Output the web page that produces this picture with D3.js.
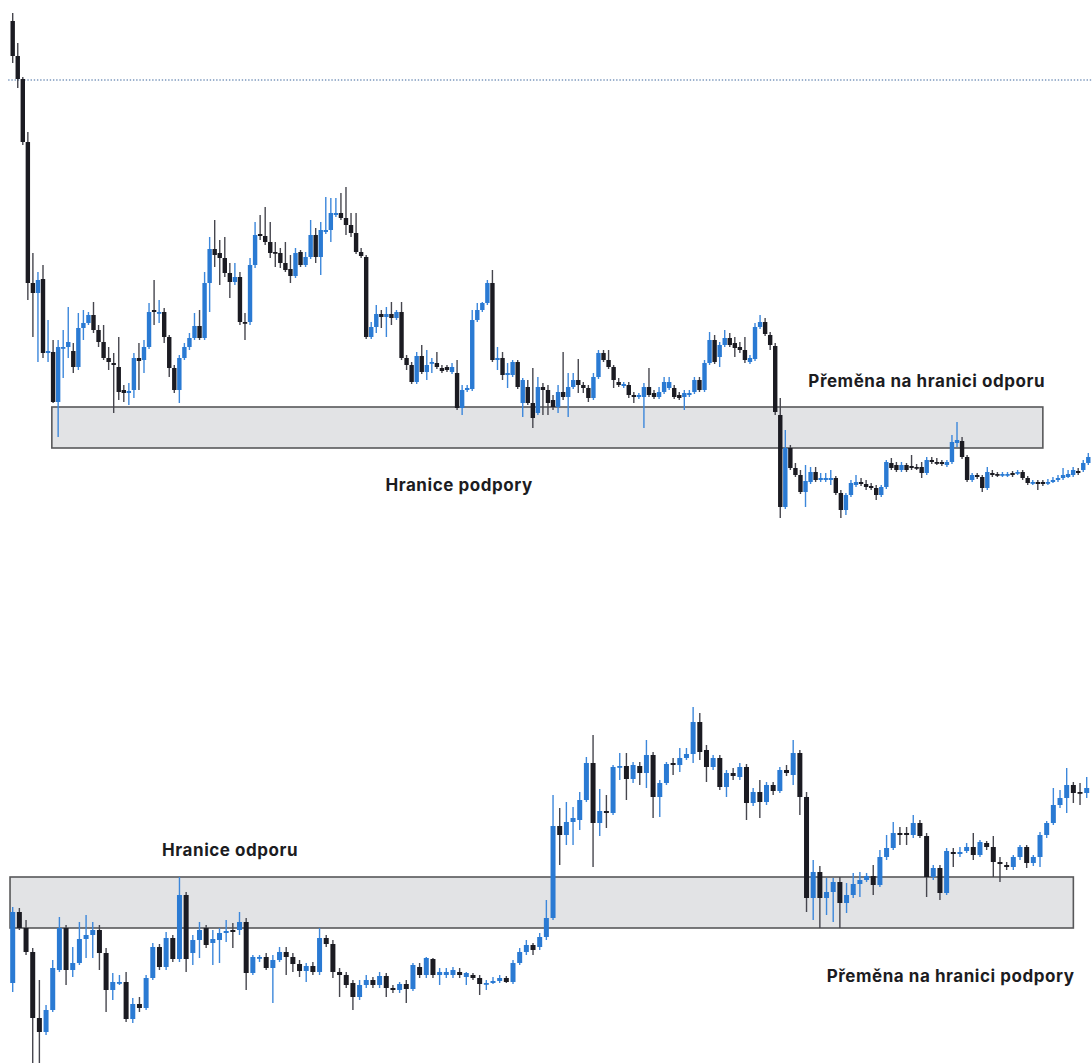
<!DOCTYPE html>
<html>
<head>
<meta charset="utf-8">
<script src="https://cdn.jsdelivr.net/npm/d3@7"></script>
<style>
  html, body { margin: 0; padding: 0; background: #ffffff; }
  svg { display: block; }
  .label { font-family: Inter, "Noto Sans", sans-serif; font-weight: 700; fill: #1c1c1f; letter-spacing: 0.55px; }
</style>
</head>
<body>
<div id="chart"></div>
<script>
// Upper chart: one row per candle, [open, high, low, close]
const topCandles = [
  [579,587,537,544],[544,557,512,521],[521,523,455,458],[458,468,300,317],[317,347,263,307],
  [307,328,238,320],[321,335,242,247],[247,280,238,249],[248,260,197,198],[198,260,163,253],
  [252,270,222,253],[253,293,242,258],[249,257,227,233],[233,287,230,272],[272,290,260,277],
  [277,288,275,285],[285,298,267,270],[270,275,253,258],[258,275,240,242],[242,253,230,238],
  [237,247,187,235],[233,263,200,208],[210,215,198,207],[207,217,195,209],[210,247,202,242],
  [242,257,210,239],[240,260,227,253],[253,297,251,288],[290,320,275,288],[287,300,277,288],
  [288,292,257,263],[263,265,223,232],[232,235,207,210],[210,245,197,242],[242,257,240,253],
  [253,267,250,262],[262,287,260,274],[274,290,260,262],[262,328,260,317],[317,363,288,351],
  [351,380,333,345],[347,360,315,342],[342,363,323,327],[327,337,302,318],[318,337,315,323],
  [323,328,275,278],[278,287,260,277],[278,342,275,335],[335,378,332,365],[366,385,360,364],
  [364,393,355,358],[358,378,342,347],[348,358,333,347],[347,352,332,337],[337,358,328,330],
  [331,345,317,324],[324,352,322,347],[348,350,333,335],[335,348,333,343],[343,380,341,365],
  [365,372,337,343],[343,378,325,370],[368,403,366,370],[370,402,358,387],[385,402,383,387],
  [387,407,380,382],[382,413,365,375],[375,387,363,367],[367,387,346,348],[348,352,342,344],
  [343,345,261,263],[263,278,261,273],[273,295,267,286],[286,290,272,283],[283,293,263,286],
  [286,298,275,282],[282,290,280,288],[288,298,240,242],[242,245,230,235],[235,238,216,218],
  [218,248,216,244],[244,255,226,228],[228,250,220,235],[237,242,227,238],[237,248,231,233],
  [232,235,227,229],[233,235,228,230],[228,237,226,233],[227,240,190,192],[192,215,185,210],
  [210,215,208,212],[211,290,209,280],[280,297,278,290],[290,298,288,297],[297,320,295,317],
  [317,330,238,240],[240,253,230,242],[242,248,220,225],[225,237,212,227],[225,240,223,238],
  [238,240,211,213],[197,222,183,220],[213,220,195,197],[197,232,172,182],[187,223,185,213],
  [213,217,185,210],[210,215,185,197],[200,205,190,193],[193,215,187,208],[208,248,200,203],
  [203,227,183,213],[213,227,211,220],[220,241,207,215],[215,218,207,212],[212,215,198,202],
  [202,227,200,223],[223,250,221,247],[247,250,238,240],[240,250,231,233],[233,235,212,220],
  [218,222,213,215],[214,218,212,216],[215,218,202,205],[205,208,197,203],[203,207,201,205],
  [203,217,172,213],[213,232,203,205],[207,210,201,203],[203,213,201,208],[208,223,206,218],
  [212,223,210,218],[212,215,201,203],[205,208,200,202],[203,210,190,207],[205,210,203,207],
  [208,223,206,220],[220,223,208,210],[210,240,208,237],[237,268,235,260],[260,265,236,238],
  [243,258,233,255],[255,270,253,262],[262,267,253,255],[257,263,243,252],[253,258,247,250],
  [250,263,237,240],[238,245,236,242],[241,277,239,273],[273,285,271,278],[278,282,264,266],
  [265,268,250,255],[254,257,185,188],[185,202,82,93],[93,170,91,152],[152,155,130,132],
  [132,137,123,125],[125,130,106,108],[108,135,93,119],[118,133,116,128],[128,133,118,120],
  [120,127,118,122],[120,127,118,122],[120,130,115,122],[122,124,105,107],[107,110,82,90],
  [90,107,85,105],[105,120,103,117],[115,125,113,118],[118,122,114,116],[116,120,110,113],
  [114,117,110,112],[112,115,100,105],[105,115,103,113],[113,140,111,138],[137,142,130,132],
  [135,138,128,130],[130,138,128,135],[135,137,128,130],[134,145,130,132],[133,136,130,132],
  [133,138,122,127],[127,143,125,140],[140,143,136,138],[138,142,135,137],[138,140,134,136],
  [135,140,133,138],[138,165,136,158],[157,178,153,160],[159,163,141,143],[143,145,118,120],
  [120,127,118,125],[125,127,121,123],[123,125,108,112],[112,133,110,128],[127,130,123,125],
  [126,128,123,125],[125,128,123,126],[125,128,123,126],[127,129,123,125],[127,130,125,128],
  [128,130,120,122],[122,124,115,117],[117,120,115,118],[118,120,110,116],[118,120,114,116],
  [117,121,115,118],[118,123,117,120],[120,125,118,122],[122,132,120,125],[123,130,122,126],
  [125,133,123,130],[129,132,125,127],[130,140,128,137],[137,147,135,143]
];

// Lower chart: [open, high, low, close]
const bottomCandles = [
  [117,193,108,188],[188,192,170,172],[172,180,145,148],[148,152,30,82],[82,120,30,68],
  [68,95,65,90],[90,140,88,132],[130,183,128,172],[172,175,115,130],[130,153,123,137],
  [137,178,135,161],[161,185,142,165],[165,178,142,170],[170,175,130,147],[147,152,88,110],
  [110,127,100,118],[117,125,115,118],[118,128,78,81],[81,102,77,96],[96,103,88,92],
  [92,125,90,122],[122,157,120,153],[153,156,130,133],[133,168,130,162],[162,165,138,141],
  [141,223,138,205],[205,208,128,141],[147,165,135,160],[160,178,142,170],[172,175,152,155],
  [157,170,135,161],[160,172,137,167],[167,180,158,169],[170,177,152,168],[170,188,165,178],
  [178,182,110,127],[127,145,125,143],[142,145,138,143],[143,147,130,132],[132,145,97,140],
  [140,153,138,148],[148,153,125,143],[143,147,128,136],[136,140,123,129],[129,137,118,134],
  [134,138,125,128],[128,172,125,162],[162,165,153,156],[156,160,122,128],[128,132,103,125],
  [125,128,112,115],[117,120,90,103],[103,120,100,115],[115,125,112,120],[120,123,112,115],
  [115,128,112,124],[124,127,103,112],[112,115,107,110],[110,118,107,116],[116,120,97,111],
  [111,137,109,135],[133,137,122,125],[125,143,122,142],[141,142,122,125],[125,132,115,128],
  [125,132,122,128],[125,133,122,130],[128,132,122,125],[123,128,115,127],[125,127,120,122],
  [122,125,105,116],[116,120,110,117],[117,123,116,119],[119,125,117,122],[122,124,117,118],
  [118,140,116,137],[137,152,135,148],[148,160,145,155],[155,157,145,150],[153,167,150,163],
  [163,200,160,182],[182,305,180,274],[274,292,235,265],[265,298,255,278],[278,293,255,282],
  [280,308,270,300],[300,343,298,337],[337,365,233,277],[277,311,264,289],[289,305,272,287],
  [287,335,285,333],[333,347,320,334],[334,347,300,321],[321,338,317,335],[334,338,315,327],
  [327,360,312,345],[345,348,282,303],[303,320,283,317],[317,338,315,336],[337,342,325,335],
  [335,352,328,342],[342,352,340,346],[346,393,337,378],[378,387,340,348],[350,355,318,333],
  [333,345,330,342],[342,345,310,313],[313,330,303,327],[327,332,320,324],[323,337,320,333],
  [333,336,280,297],[297,312,294,308],[308,320,282,298],[298,318,295,315],[315,318,305,309],
  [309,333,307,330],[330,335,324,327],[325,360,315,347],[347,350,285,303],[303,308,188,202],
  [202,240,180,228],[228,234,172,202],[202,222,185,208],[208,222,178,218],[218,223,172,197],
  [197,217,187,205],[205,227,202,216],[216,228,203,220],[220,227,218,224],[224,235,205,215],
  [215,250,213,243],[243,265,240,252],[252,278,250,267],[267,273,255,265],[267,273,255,265],
  [265,285,262,277],[277,280,262,264],[264,267,203,223],[223,235,220,232],[232,235,200,207],
  [207,252,205,249],[248,252,233,246],[246,253,243,248],[249,257,247,253],[253,267,240,245],
  [245,260,243,258],[257,259,250,253],[253,264,223,238],[238,243,218,236],[235,238,230,233],
  [233,245,230,243],[243,255,240,253],[253,255,232,237],[237,245,234,243],[243,268,233,265],
  [265,279,262,277],[277,312,275,295],[295,310,292,302],[302,332,287,315],[315,318,297,307],
  [308,317,295,307],[307,323,302,312]
];

// Zones: [first candle, last candle, low price, high price]
const topZone = [7.75, 204, 152, 193];
const bottomZone = [-0.4, 159, 172, 223];

// Dotted level on the upper chart: price
const topLevel = 520;

// Labels: [text, candle index (centre), price (baseline)]
const topLabels = [
  ["Hranice podpory", 88.4, 109],
  ["Přeměna na hranici odporu", 181.0, 213]
];
const bottomLabels = [
  ["Hranice odporu", 32.6, 244],
  ["Přeměna na hranici podpory", 140.6, 118]
];

const W = 1092, H = 1063;
const blue = "#2a7ad3", dark = "#1b1b22";

const svg = d3.select("#chart")
    .append("svg")
    .attr("width", W)
    .attr("height", H);

function drawPanel(candles, zone, labels, xScale, yScale, bodyW, level) {
    const g = svg.append("g");

    // Zone box goes under the candles
    g.append("rect")
        .attr("x", xScale(zone[0]))
        .attr("y", yScale(zone[3]))
        .attr("width", xScale(zone[1]) - xScale(zone[0]))
        .attr("height", yScale(zone[2]) - yScale(zone[3]))
        .attr("fill", "#e2e3e5")
        .attr("stroke", "#58585a")
        .attr("stroke-width", 1.6);

    if (level !== null) {
        g.append("line")
            .attr("x1", xScale(-0.9))
            .attr("x2", W)
            .attr("y1", yScale(level))
            .attr("y2", yScale(level))
            .attr("stroke", "#7c98bd")
            .attr("stroke-width", 1.4)
            .attr("stroke-dasharray", "1.4,1.8");
    }

    const isUp = d => d[3] >= d[0];

    const c = g.selectAll(".candle")
        .data(candles)
        .join("g")
        .attr("class", "candle");

    // wicks
    c.append("line")
        .attr("x1", (d, i) => xScale(i))
        .attr("x2", (d, i) => xScale(i))
        .attr("y1", d => yScale(d[1]))
        .attr("y2", d => yScale(d[2]))
        .attr("stroke", d => isUp(d) ? "#3c87db" : "#46464e")
        .attr("stroke-width", 1.4);

    // bodies
    c.append("rect")
        .attr("x", (d, i) => xScale(i) - bodyW / 2)
        .attr("y", d => yScale(Math.max(d[0], d[3])))
        .attr("width", bodyW)
        .attr("height", d => Math.max(1.8, Math.abs(yScale(d[0]) - yScale(d[3]))))
        .attr("fill", d => isUp(d) ? blue : dark);

    g.selectAll(".label")
        .data(labels)
        .join("text")
        .attr("class", "label")
        .attr("x", d => xScale(d[1]))
        .attr("y", d => yScale(d[2]))
        .attr("text-anchor", "middle")
        .attr("font-size", 17)
        .text(d => d[0]);
}

// Upper panel scales
const xTop = d3.scaleLinear().domain([0, topCandles.length - 1]).range([12.7, 1088.3]);
const yTop = d3.scaleLinear().domain([0, 600]).range([600, 0]);

// Lower panel scales
const xBottom = d3.scaleLinear().domain([0, bottomCandles.length - 1]).range([12.7, 1086.7]);
const yBottom = d3.scaleLinear().domain([0, 1100]).range([1100, 0]);

drawPanel(topCandles, topZone, topLabels, xTop, yTop, 4.4, topLevel);
drawPanel(bottomCandles, bottomZone, bottomLabels, xBottom, yBottom, 5, null);
</script>
</body>
</html>
